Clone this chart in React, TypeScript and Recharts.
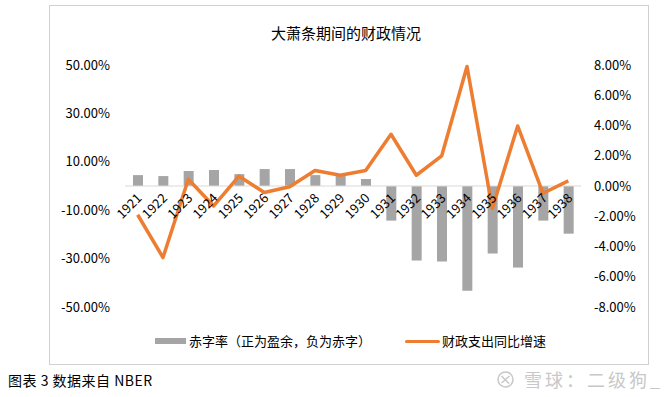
import { ComposedChart, Bar, Line, XAxis, YAxis, ReferenceLine } from "recharts";

const years = [
  "1921", "1922", "1923", "1924", "1925", "1926", "1927", "1928", "1929",
  "1930", "1931", "1932", "1933", "1934", "1935", "1936", "1937", "1938",
];
// 赤字率 (%), left axis
const deficitRate = [
  4.5, 4.1, 6.2, 6.6, 4.9, 7.0, 7.0, 4.5, 4.8,
  2.9, -14.3, -30.8, -31.2, -43.3, -27.9, -33.7, -14.3, -19.7,
];
// 财政支出同比增速 (%), right axis
const spendingGrowth = [
  -1.9, -4.73, 0.45, -1.32, 0.65, -0.43, -0.05, 1.02, 0.71,
  1.02, 3.42, 0.71, 1.99, 7.9, -1.49, 3.97, -0.48, 0.34,
];
const leftTicks = [-50, -30, -10, 10, 30, 50];
const rightTicks = [-8, -6, -4, -2, 0, 2, 4, 6, 8];

const data = years.map((year, i) => ({
  year,
  deficit: deficitRate[i],
  growth: spendingGrowth[i],
}));

const FONT = '"Noto Sans CJK SC", "Noto Sans", sans-serif';
const PLOT_TOP = 65;
const PLOT_BOTTOM = 307;
const XAXIS_H = 30;
const LEFT_MIN = -50;
const LEFT_MAX = 50;
// y of the zero line, from the left axis domain
const ZERO_Y = PLOT_TOP + ((PLOT_BOTTOM - PLOT_TOP) * LEFT_MAX) / (LEFT_MAX - LEFT_MIN);

const YearTick = (props: any) => {
  const { x, payload } = props;
  const tx = x + 5;
  const ty = ZERO_Y + 13;
  return (
    <text
      x={tx}
      y={ty}
      textAnchor="end"
      fontSize={13}
      fill="#000"
      fontFamily={FONT}
      transform={`rotate(-45 ${tx} ${ty})`}
    >
      {payload.value}
    </text>
  );
};

export default function App() {
  return (
    <div style={{ position: "absolute", left: 0, top: 0, width: 672, height: 397, background: "#fff", fontFamily: FONT }}>
      <div
        style={{
          position: "absolute",
          left: 49,
          top: 5,
          width: 600,
          height: 360,
          border: "1px solid #D0D0D0",
          boxSizing: "border-box",
        }}
      />
      <div
        style={{
          position: "absolute",
          left: 0,
          width: 692,
          top: 22,
          textAlign: "center",
          fontSize: 15,
          color: "#000",
        }}
      >
        大萧条期间的财政情况
      </div>
      <div style={{ position: "absolute", left: 0, top: 0 }}>
        <ComposedChart
          width={672}
          height={397}
          data={data}
          margin={{ top: PLOT_TOP, right: 0, bottom: 397 - PLOT_BOTTOM - XAXIS_H, left: 0 }}
        >
          <XAxis
            dataKey="year"
            height={XAXIS_H}
            axisLine={false}
            tickLine={false}
            interval={0}
            tick={<YearTick />}
          />
          <YAxis
            yAxisId="left"
            width={125}
            domain={[LEFT_MIN, LEFT_MAX]}
            ticks={leftTicks}
            interval={0}
            axisLine={false}
            tickLine={false}
            tickSize={0}
            tickMargin={15}
            tickFormatter={(v: number) => `${v.toFixed(2)}%`}
            tick={{ fontSize: 13, fill: "#000", fontFamily: FONT }}
          />
          <YAxis
            yAxisId="right"
            orientation="right"
            width={91}
            domain={[-8, 8]}
            ticks={rightTicks}
            interval={0}
            axisLine={false}
            tickLine={false}
            tickSize={0}
            tickMargin={13}
            tickFormatter={(v: number) => `${v.toFixed(2)}%`}
            tick={{ fontSize: 13, fill: "#000", fontFamily: FONT, textAnchor: "start" }}
          />
          <ReferenceLine yAxisId="left" y={0} stroke="#D9D9D9" strokeWidth={1} />
          <Bar
            yAxisId="left"
            dataKey="deficit"
            name="赤字率（正为盈余，负为赤字）"
            fill="#A5A5A5"
            barSize={10}
            isAnimationActive={false}
          />
          <Line
            yAxisId="right"
            dataKey="growth"
            name="财政支出同比增速"
            type="linear"
            stroke="#ED7D31"
            strokeWidth={3.5}
            dot={false}
            activeDot={false}
            strokeLinejoin="round"
            isAnimationActive={false}
          />
        </ComposedChart>
      </div>
      {/* legend */}
      <div style={{ position: "absolute", left: 0, top: 331, width: 672, height: 20, fontSize: 13, color: "#000" }}>
        <div style={{ position: "absolute", left: 155, top: 7, width: 31, height: 6, background: "#A5A5A5" }} />
        <div style={{ position: "absolute", left: 189, top: 0, lineHeight: "20px", whiteSpace: "nowrap" }}>
          赤字率（正为盈余，负为赤字）
        </div>
        <div style={{ position: "absolute", left: 405, top: 9, width: 35, height: 3, background: "#ED7D31", borderRadius: 2 }} />
        <div style={{ position: "absolute", left: 442, top: 0, lineHeight: "20px", whiteSpace: "nowrap" }}>
          财政支出同比增速
        </div>
      </div>
      <div style={{ position: "absolute", left: 8, top: 370, fontSize: 14, letterSpacing: 0.5, color: "#000", whiteSpace: "nowrap" }}>
        图表 3 数据来自 NBER
      </div>
      <div
        style={{
          position: "absolute",
          left: 497,
          top: 366,
          display: "flex",
          alignItems: "center",
          color: "#C8C8C8",
          whiteSpace: "nowrap",
        }}
      >
        <svg width={17} height={17} viewBox="0 0 17 17">
          <circle cx={8.5} cy={8.5} r={7.5} fill="none" stroke="#C8C8C8" strokeWidth={1.5} />
          <path d="M4.5 5 L8.5 9 M4.5 12 L12.5 5 M8.5 9 L12 12.5" stroke="#C8C8C8" strokeWidth={1.5} fill="none" />
        </svg>
        <span style={{ marginLeft: 10, fontSize: 18, letterSpacing: 3 }}>雪球：二级狗_</span>
      </div>
    </div>
  );
}
